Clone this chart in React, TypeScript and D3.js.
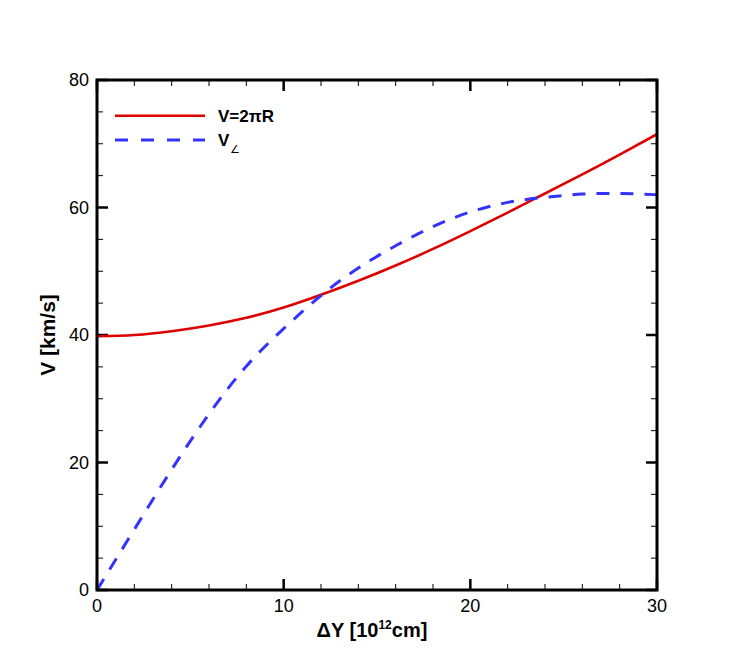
import * as d3 from "d3";

// ΔY sample points [10^12 cm]
const dy = [0, 2, 4, 6, 8, 10, 12, 14, 16, 18, 20, 22, 24, 26, 28, 30];
// V = 2πR
const vCirc = [39.8, 40.0, 40.6, 41.5, 42.7, 44.3, 46.3, 48.5, 50.9, 53.5, 56.3, 59.2, 62.2, 65.2, 68.3, 71.5];
// V angle
const vAngle = [0, 9.5, 18.9, 27.6, 35.1, 41.0, 46.2, 50.5, 54.0, 57.0, 59.3, 60.8, 61.6, 62.1, 62.2, 62.0];

const xMajor = [0, 10, 20, 30];
const yMajor = [0, 20, 40, 60, 80];

export default function App() {
  const width = 747;
  const height = 665;
  const margin = { top: 80, right: 90, bottom: 75, left: 97 };
  const innerW = width - margin.left - margin.right;
  const innerH = height - margin.top - margin.bottom;

  const x = d3.scaleLinear().domain([0, 30]).range([0, innerW]);
  const y = d3.scaleLinear().domain([0, 80]).range([innerH, 0]);

  const line = d3
    .line<[number, number]>()
    .x((d) => x(d[0]))
    .y((d) => y(d[1]))
    .curve(d3.curveNatural);

  const redPts = dy.map((d, i) => [d, vCirc[i]] as [number, number]);
  const bluePts = dy.map((d, i) => [d, vAngle[i]] as [number, number]);

  const xMinor = d3.range(0, 30.01, 2).filter((v) => !xMajor.includes(v));
  const yMinor = d3.range(0, 80.01, 5).filter((v) => !yMajor.includes(v));

  const font = "'Liberation Sans', Arial, Helvetica, sans-serif";

  return (
    <svg
      width={width}
      height={height}
      style={{ position: "absolute", left: 0, top: 0, background: "#fff" }}
      fontFamily={font}
    >
      <g transform={`translate(${margin.left},${margin.top})`}>
        {/* minor ticks, all four sides, pointing inward */}
        {xMinor.map((v) => (
          <g key={`xm-${v}`} stroke="#000" strokeWidth={1}>
            <line x1={x(v)} x2={x(v)} y1={innerH} y2={innerH - 6} />
            <line x1={x(v)} x2={x(v)} y1={0} y2={6} />
          </g>
        ))}
        {yMinor.map((v) => (
          <g key={`ym-${v}`} stroke="#000" strokeWidth={1}>
            <line x1={0} x2={6} y1={y(v)} y2={y(v)} />
            <line x1={innerW} x2={innerW - 6} y1={y(v)} y2={y(v)} />
          </g>
        ))}
        {/* major ticks */}
        {xMajor.map((v) => (
          <g key={`xM-${v}`} stroke="#000" strokeWidth={2.5}>
            <line x1={x(v)} x2={x(v)} y1={innerH} y2={innerH - 11} />
            <line x1={x(v)} x2={x(v)} y1={0} y2={11} />
          </g>
        ))}
        {yMajor.map((v) => (
          <g key={`yM-${v}`} stroke="#000" strokeWidth={2.5}>
            <line x1={0} x2={11} y1={y(v)} y2={y(v)} />
            <line x1={innerW} x2={innerW - 11} y1={y(v)} y2={y(v)} />
          </g>
        ))}

        {/* curves */}
        <path d={line(redPts) ?? ""} fill="none" stroke="#dd0000" strokeWidth={2.6} />
        <path
          d={line(bluePts) ?? ""}
          fill="none"
          stroke="#3333ff"
          strokeWidth={3}
          strokeDasharray="13 11"
        />

        {/* frame */}
        <rect x={0} y={0} width={innerW} height={innerH} fill="none" stroke="#000" strokeWidth={3} />

        {/* tick labels */}
        {xMajor.map((v) => (
          <text key={`xl-${v}`} x={x(v)} y={innerH + 22} textAnchor="middle" fontSize={18}>
            {v}
          </text>
        ))}
        {yMajor.map((v) => (
          <text
            key={`yl-${v}`}
            x={-8}
            y={y(v)}
            textAnchor="end"
            dominantBaseline="central"
            fontSize={18}
          >
            {v}
          </text>
        ))}

        {/* legend */}
        <line x1={18} x2={108} y1={35.7} y2={35.7} stroke="#dd0000" strokeWidth={2.6} />
        <line
          x1={18}
          x2={108}
          y1={60}
          y2={60}
          stroke="#3333ff"
          strokeWidth={3}
          strokeDasharray="13 13"
        />
        <text x={121} y={42} fontSize={17} fontWeight="bold">
          V=2πR
        </text>
        <text x={121} y={66} fontSize={17} fontWeight="bold">
          V
        </text>
        <text x={133} y={73} fontSize={11}>
          ∠
        </text>
      </g>

      {/* axis titles */}
      <text
        x={margin.left + innerW / 2 - 5}
        y={637}
        textAnchor="middle"
        fontSize={20}
        fontWeight="bold"
      >
        ΔY [10
        <tspan fontSize={12} dy={-8}>
          12
        </tspan>
        <tspan dy={8}>cm]</tspan>
      </text>
      <text
        transform={`translate(55,${margin.top + innerH / 2}) rotate(-90)`}
        textAnchor="middle"
        fontSize={21}
        fontWeight="bold"
      >
        V [km/s]
      </text>
    </svg>
  );
}
